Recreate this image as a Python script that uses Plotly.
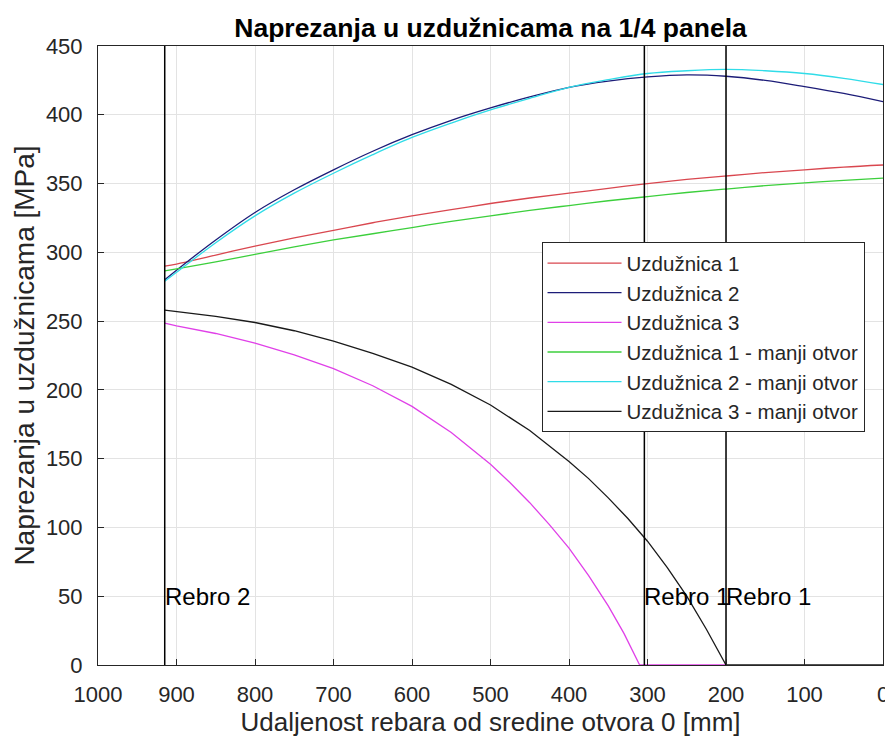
import plotly.graph_objects as go

# Distances from opening centre [mm]
x_main = [915, 900, 850, 800, 750, 700, 650, 600, 550, 500, 450, 400, 350, 300, 250, 200, 150, 100, 50, 0]

uzd1 = [290, 291.5, 298, 304.5, 310.5, 316, 321.5, 326.5, 331, 335.5, 339.5, 343, 346.5, 350, 353, 355.5, 358, 360, 362, 363.5]
uzd2 = [280, 287, 309, 329, 345.5, 360, 373.5, 385.5, 396, 405, 413, 420, 424.5, 427.5, 429, 428, 425, 420.5, 415.5, 409.5]
uzd1_m = [286.5, 288, 293, 298.5, 304, 309, 313.5, 318, 322.5, 326.5, 330.5, 334, 337.5, 340.5, 343.5, 346, 348.5, 350.5, 352.3, 354]
uzd2_m = [279, 285.5, 307, 326.5, 343, 357.5, 371, 383.5, 394, 403.5, 412, 420, 425.5, 430, 432, 433, 432, 430, 426.5, 422]

x_u3 = [915, 900, 850, 800, 750, 700, 650, 600, 550, 500, 475, 450, 425, 400, 375, 350, 330, 310, 300, 250, 200]
uzd3 = [248.5, 246.5, 241, 234, 225.5, 215.5, 203, 188, 169, 146, 132.5, 118, 102, 85, 65, 43, 23, 0, 0, 0, 0]

x_u3m = [915, 900, 850, 800, 750, 700, 650, 600, 550, 500, 450, 400, 375, 350, 325, 300, 275, 250, 225, 200, 150, 100, 50, 0]
uzd3_m = [258, 257, 253.5, 249, 243, 235.5, 226.5, 216.5, 204, 189, 170.5, 148, 135.5, 121.5, 106.5, 90, 71, 50, 26, 0, 0, 0, 0, 0]

# Rib positions and labels
rebra_x = [915, 304, 200]
rebra_lbl = ["Rebro 2", "Rebro 1", "Rebro 1"]
rebra_lbl_y = 50

x_ticks = [1000, 900, 800, 700, 600, 500, 400, 300, 200, 100, 0]
y_ticks = [0, 50, 100, 150, 200, 250, 300, 350, 400, 450]

FONT = "Liberation Sans"
AX = "#262626"

fig = go.Figure()

series = [
    ("Uzdužnica 1", x_main, uzd1, "#d9474f", "spline"),
    ("Uzdužnica 2", x_main, uzd2, "#1c1c78", "spline"),
    ("Uzdužnica 3", x_u3, uzd3, "#e040e8", "linear"),
    ("Uzdužnica 1 - manji otvor", x_main, uzd1_m, "#3ccf3c", "spline"),
    ("Uzdužnica 2 - manji otvor", x_main, uzd2_m, "#30dce8", "spline"),
    ("Uzdužnica 3 - manji otvor", x_u3m, uzd3_m, "#1a1a1a", "linear"),
]
for name, xs, ys, col, shp in series:
    fig.add_trace(go.Scatter(x=xs, y=ys, mode="lines", name=name,
                             line=dict(color=col, width=1.3, shape=shp)))

for xr, lbl in zip(rebra_x, rebra_lbl):
    fig.add_trace(go.Scatter(x=[xr, xr], y=[y_ticks[0], y_ticks[-1]], mode="lines",
                             line=dict(color="black", width=1.5), showlegend=False,
                             hoverinfo="skip"))
    fig.add_annotation(x=xr, y=rebra_lbl_y, text=lbl, showarrow=False,
                       xanchor="left", yanchor="middle", xshift=-2,
                       font=dict(family=FONT, size=24, color="black"))

fig.update_layout(
    width=893, height=743,
    margin=dict(l=90, r=18, t=38, b=86),
    paper_bgcolor="white", plot_bgcolor="white",
    title=dict(text="<b>Naprezanja u uzdužnicama na 1/4 panela</b>",
               x=0.5, xref="paper", xanchor="center",
               y=1, yref="paper", yanchor="bottom", pad=dict(b=9),
               font=dict(family=FONT, size=26.5, color="black")),
    font=dict(family=FONT, color=AX),
    legend=dict(x=0.565, y=0.683, xanchor="left", yanchor="top",
                bgcolor="white", bordercolor=AX, borderwidth=1,
                font=dict(family=FONT, size=20.5, color=AX),
                tracegroupgap=0, itemwidth=74, entrywidth=250),
    showlegend=True,
)

fig.update_xaxes(range=[1000, 0], tickmode="array", tickvals=x_ticks,
                 ticks="inside", ticklen=6, tickcolor=AX,
                 showgrid=True, gridcolor="#e3e3e3", gridwidth=1,
                 showline=True, linecolor=AX, linewidth=1, mirror=True,
                 zeroline=False, ticklabelstandoff=10,
                 tickfont=dict(family=FONT, size=22, color=AX),
                 title=dict(text="Udaljenost rebara od sredine otvora 0 [mm]",
                            font=dict(family=FONT, size=26, color=AX),
                            standoff=2))
fig.update_yaxes(range=[0, 450], tickmode="array", tickvals=y_ticks,
                 ticks="inside", ticklen=6, tickcolor=AX,
                 showgrid=True, gridcolor="#e3e3e3", gridwidth=1,
                 showline=True, linecolor=AX, linewidth=1, mirror=True,
                 zeroline=False, ticklabelstandoff=10,
                 tickfont=dict(family=FONT, size=22, color=AX),
                 title=dict(text="Naprezanja u uzdužnicama [MPa]",
                            font=dict(family=FONT, size=28, color=AX),
                            standoff=3))

fig.write_html("out.html")
